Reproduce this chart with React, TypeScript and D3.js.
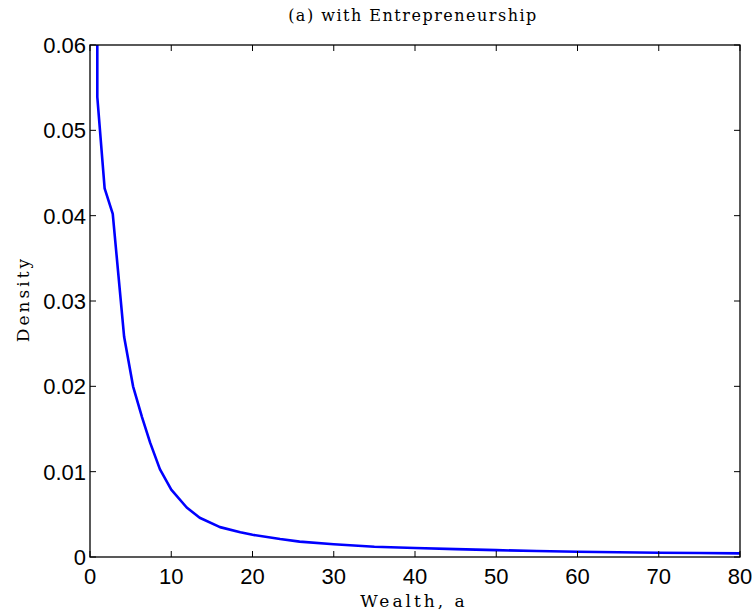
import React, { useRef, useEffect } from "react";
import * as d3 from "d3";

// wealth grid and density
const wealth = [0.82, 0.9, 1.8, 2.8, 3.5, 4.2, 5.3, 6.4, 7.4, 8.6, 10, 11.9, 13.5, 16, 18.5, 20, 23.4, 25.8, 30, 35, 40, 45, 50, 55, 60, 65, 70, 75, 80];
const density = [0.5, 0.0539, 0.0432, 0.0402, 0.033, 0.0258, 0.02, 0.0164, 0.0134, 0.0103, 0.0079, 0.0058, 0.0046, 0.0035, 0.0029, 0.0026, 0.0021, 0.0018, 0.0015, 0.0012, 0.00105, 0.00092, 0.0008, 0.0007, 0.00062, 0.00056, 0.0005, 0.00046, 0.00043];
const xTicks = [0, 10, 20, 30, 40, 50, 60, 70, 80];
const yTicks = [0, 0.01, 0.02, 0.03, 0.04, 0.05, 0.06];

function App() {
  const svgRef = useRef<SVGSVGElement>(null);

  useEffect(() => {
    const svg = d3.select(svgRef.current);
    svg.selectAll("*").remove();

    const left = 90, right = 740, top = 45, bottom = 557;
    const x = d3.scaleLinear().domain([0, 80]).range([left, right]);
    const y = d3.scaleLinear().domain([0, 0.06]).range([bottom, top]);

    svg.append("defs").append("clipPath").attr("id", "plotclip")
      .append("rect").attr("x", left).attr("y", top)
      .attr("width", right - left).attr("height", bottom - top);

    const pts: [number, number][] = wealth.map((w, i) => [w, density[i]]);
    const line = d3.line<[number, number]>().x(d => x(d[0])).y(d => y(d[1]));

    svg.append("path")
      .datum(pts)
      .attr("d", line)
      .attr("fill", "none")
      .attr("stroke", "#0000ff")
      .attr("stroke-width", 2.6)
      .attr("stroke-linejoin", "round")
      .attr("clip-path", "url(#plotclip)");

    // box
    svg.append("rect")
      .attr("x", left).attr("y", top)
      .attr("width", right - left).attr("height", bottom - top)
      .attr("fill", "none").attr("stroke", "#000").attr("stroke-width", 1.3);

    const tl = 6;
    // ticks point inward on all four sides
    xTicks.forEach(t => {
      svg.append("line").attr("x1", x(t)).attr("x2", x(t)).attr("y1", bottom).attr("y2", bottom - tl)
        .attr("stroke", "#000");
      svg.append("line").attr("x1", x(t)).attr("x2", x(t)).attr("y1", top).attr("y2", top + tl)
        .attr("stroke", "#000");
      svg.append("text").attr("x", x(t)).attr("y", bottom + 27)
        .attr("text-anchor", "middle")
        .style("font-family", "'Liberation Sans', Arial, sans-serif")
        .style("font-size", "22px")
        .text(t);
    });

    yTicks.forEach(t => {
      svg.append("line").attr("x1", left).attr("x2", left + tl).attr("y1", y(t)).attr("y2", y(t))
        .attr("stroke", "#000");
      svg.append("line").attr("x1", right).attr("x2", right - tl).attr("y1", y(t)).attr("y2", y(t))
        .attr("stroke", "#000");
      svg.append("text").attr("x", left - 4).attr("y", y(t) + 8)
        .attr("text-anchor", "end")
        .style("font-family", "'Liberation Sans', Arial, sans-serif")
        .style("font-size", "22px")
        .text(t === 0 ? "0" : t.toFixed(2));
    });

    const serif = "'DejaVu Serif', serif";
    svg.append("text").attr("x", 414).attr("y", 607)
      .attr("text-anchor", "middle")
      .style("font-family", serif).style("font-size", "17px").style("letter-spacing", "3px")
      .text("Wealth, a");

    svg.append("text").attr("transform", "translate(29,299) rotate(-90)")
      .attr("text-anchor", "middle")
      .style("font-family", serif).style("font-size", "17px").style("letter-spacing", "3px")
      .text("Density");

    svg.append("text").attr("x", 413).attr("y", 21)
      .attr("text-anchor", "middle")
      .style("font-family", serif).style("font-size", "16px").style("letter-spacing", "1.5px")
      .text("(a) with Entrepreneurship");
  }, []);

  return (
    <svg ref={svgRef} width={756} height={614}
      style={{ position: "absolute", left: 0, top: 0, background: "#fff" }} />
  );
}

export default App;
